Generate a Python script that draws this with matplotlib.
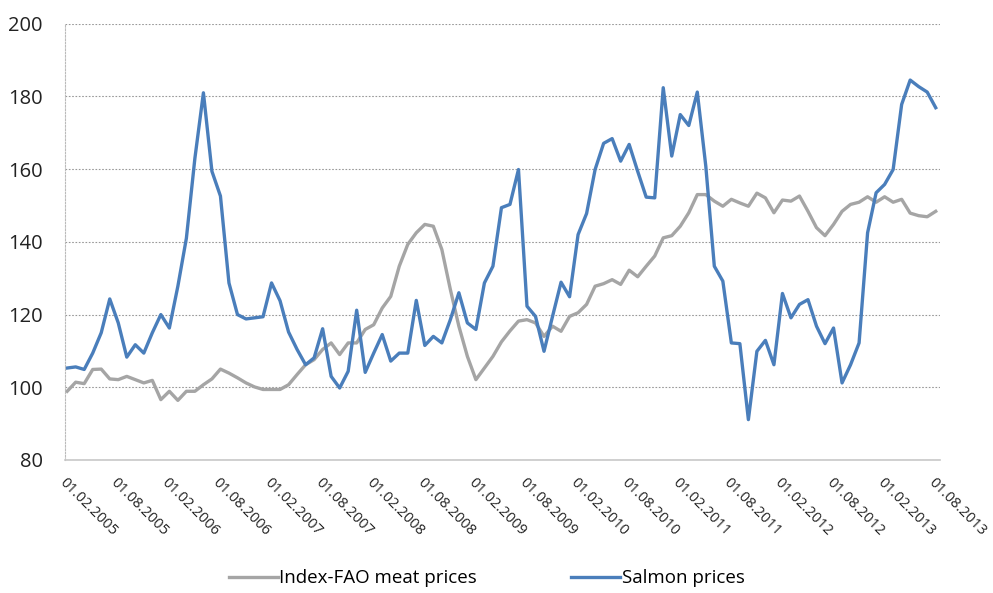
import matplotlib.pyplot as plt

# monthly data, 01.02.2005 - 01.08.2013
fao_meat = [
    98.9, 101.4, 101.0, 104.9, 105.0, 102.3, 102.1, 103.0, 102.1, 101.2,
    101.9, 96.6, 98.9, 96.4, 98.9, 98.9, 100.7, 102.3, 105.0, 103.9,
    102.6, 101.2, 100.1, 99.4, 99.4, 99.4, 100.7, 103.5, 106.2, 107.6,
    110.4, 112.2, 109.0, 112.2, 112.2, 115.9, 117.2, 121.8, 125.0, 133.3,
    139.3, 142.5, 144.8, 144.3, 137.9, 126.9, 116.8, 108.5, 102.1, 105.3,
    108.5, 112.5, 115.5, 118.2, 118.6, 117.7, 114.0, 116.8, 115.4, 119.5,
    120.5, 122.8, 127.8, 128.5, 129.6, 128.3, 132.2, 130.4, 133.3, 136.1,
    141.1, 141.7, 144.3, 148.0, 153.0, 153.0, 151.2, 149.8, 151.7, 150.7,
    149.8, 153.4, 152.1, 148.0, 151.5, 151.2, 152.6, 148.4, 143.9, 141.7,
    144.8, 148.4, 150.3, 150.9, 152.4, 150.9, 152.4, 150.9, 151.7, 147.9,
    147.2, 146.9, 148.4,
]
salmon = [
    105.3, 105.6, 104.9, 109.4, 115.0, 124.3, 117.7, 108.3, 111.7, 109.4,
    115.0, 120.0, 116.3, 127.8, 141.0, 163.0, 181.0, 159.4, 152.6, 128.7,
    120.0, 118.8, 119.1, 119.4, 128.7, 123.8, 115.2, 110.4, 106.2, 108.1,
    116.1, 103.0, 99.8, 104.4, 121.2, 104.1, 109.4, 114.5, 107.2, 109.4,
    109.4, 123.9, 111.5, 114.0, 112.2, 118.6, 126.0, 117.7, 115.9, 128.7,
    133.3, 149.4, 150.3, 159.9, 122.3, 119.5, 109.9, 119.5, 128.9, 124.9,
    142.0, 147.8, 159.9, 167.1, 168.4, 162.2, 166.8, 159.4, 152.3, 152.1,
    182.4, 163.6, 175.0, 172.0, 181.2, 160.8, 133.3, 129.2, 112.2, 112.0,
    91.1, 109.9, 112.9, 106.2, 125.8, 119.1, 122.8, 124.1, 116.8, 112.0,
    116.3, 101.2, 106.2, 112.2, 142.5, 153.5, 155.8, 159.9, 177.8, 184.5,
    182.7, 181.2, 176.9,
]
tick_labels = [
    "01.02.2005", "01.08.2005", "01.02.2006", "01.08.2006", "01.02.2007",
    "01.08.2007", "01.02.2008", "01.08.2008", "01.02.2009", "01.08.2009",
    "01.02.2010", "01.08.2010", "01.02.2011", "01.08.2011", "01.02.2012",
    "01.08.2012", "01.02.2013", "01.08.2013",
]

plt.rcParams["font.family"] = ["Open Sans", "DejaVu Sans"]

fig = plt.figure(figsize=(9.93, 5.93), dpi=100)
ax = fig.add_axes([0.0655, 0.2243, 0.8811, 0.7357])

x = list(range(len(salmon)))
ax.plot(x, fao_meat, color="#A5A5A5", lw=2.4, label="Index-FAO meat prices",
        solid_joinstyle="round")
ax.plot(x, salmon, color="#4A7EBB", lw=2.4, label="Salmon prices",
        solid_joinstyle="round")

ax.set_ylim(80, 200)
ax.set_yticks(range(80, 201, 20))
ax.set_xlim(-0.25, 102.5)
ax.set_xticks(range(0, len(salmon), 6))
ax.set_xticklabels(tick_labels, rotation=-45, ha="left", va="top",
                   rotation_mode="anchor", fontsize=10.5, color="#222222")
ax.tick_params(axis="x", length=0, pad=11)
ax.tick_params(axis="y", length=0, pad=16, labelsize=14.5, labelcolor="#222222")

ax.grid(axis="y", color="#999999", linestyle=(0, (1.5, 1.5)), lw=0.8)
for side in ["top", "right"]:
    ax.spines[side].set_visible(False)
ax.spines["left"].set_color("#BBBBBB")
ax.spines["left"].set_linestyle((0, (1.5, 1.5)))
ax.spines["bottom"].set_color("#C8C8C8")
ax.spines["bottom"].set_linewidth(1.2)

fig.legend(loc="center", bbox_to_anchor=(0.49, 0.025), ncol=2, frameon=False,
           fontsize=13.5, handlelength=2.6, handletextpad=0.1, columnspacing=5.0)

fig.savefig("out.png", dpi=100)
